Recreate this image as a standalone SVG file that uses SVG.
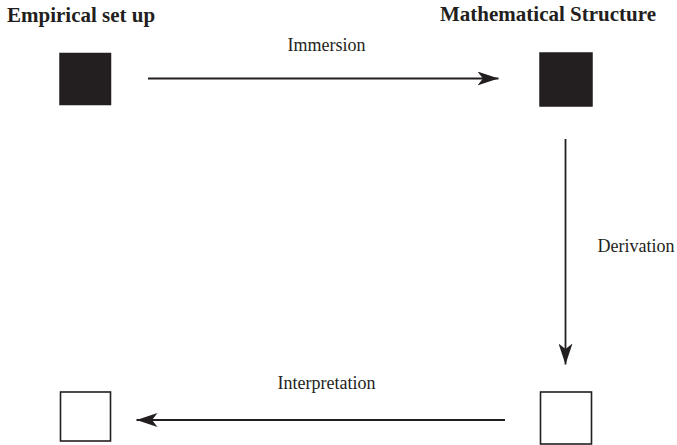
<svg xmlns="http://www.w3.org/2000/svg" width="677" height="445" viewBox="0 0 677 445">
<style>
.title{font-family:"Liberation Serif","Times New Roman",serif;font-weight:bold;font-size:21px;fill:#231f20}
.lbl{font-family:"Liberation Serif","Times New Roman",serif;font-size:18px;fill:#231f20}
.filled{fill:#231f20;stroke:#231f20;stroke-width:1.5}
.open{fill:#fff;stroke:#231f20;stroke-width:1.6}
.conn{stroke:#231f20;stroke-width:1.8;fill:none;marker-end:url(#ah)}
</style>
<defs>
<marker id="ah" markerUnits="userSpaceOnUse" orient="auto" refX="21" refY="7" markerWidth="22" markerHeight="14" viewBox="0 0 22 14">
<path d="M0,0 L21,7 L0,14 L5.5,7 Z" fill="#231f20"/>
</marker>
</defs>
<rect width="677" height="445" fill="#fff"/>
<text class="title" x="7" y="21.5">Empirical set up</text>
<text class="title" x="440" y="21">Mathematical Structure</text>
<g id="empirical-top"><rect class="filled" x="60" y="53.5" width="50.5" height="51"/></g>
<g id="math-top"><rect class="filled" x="540" y="53" width="52" height="53"/></g>
<g id="math-bottom"><rect class="open" x="540.5" y="392" width="51" height="52"/></g>
<g id="empirical-bottom"><rect class="open" x="60.5" y="392" width="50" height="49"/></g>
<g id="connectors">
<line class="conn" x1="148" y1="78.5" x2="498.5" y2="78.5"/>
<line class="conn" x1="565.5" y1="139" x2="565.5" y2="364.5"/>
<line class="conn" x1="505" y1="420" x2="136.5" y2="420"/>
<text class="lbl" x="287.5" y="50.5">Immersion</text>
<text class="lbl" x="597.5" y="252">Derivation</text>
<text class="lbl" x="277.5" y="389">Interpretation</text>
</g>
</svg>
